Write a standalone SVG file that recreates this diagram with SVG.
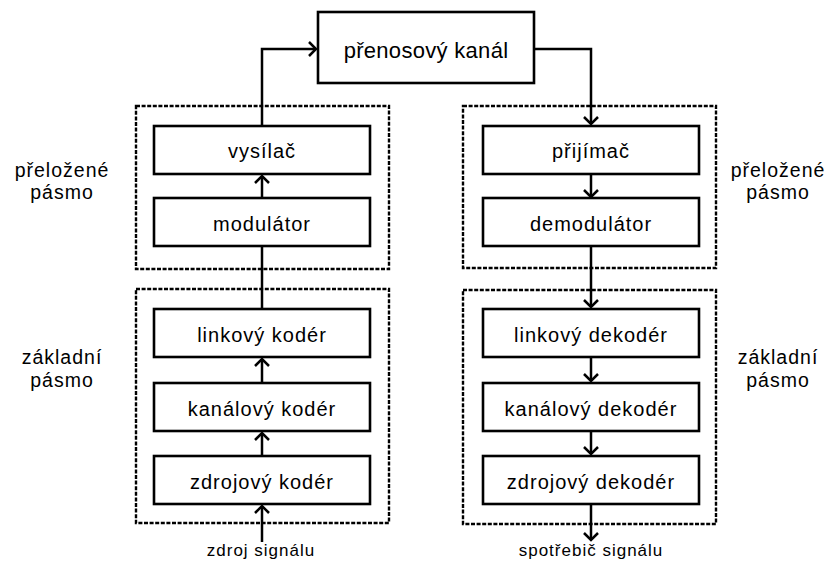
<svg xmlns="http://www.w3.org/2000/svg" width="838" height="563" viewBox="0 0 838 563">
  <style>
    .bg { fill: #ffffff; }
    .node rect { fill: #ffffff; stroke: #000000; stroke-width: 2.6; }
    .node text { font-family: "Liberation Sans", Arial, sans-serif; font-size: 20px; letter-spacing: 1px; fill: #000000; text-anchor: middle; }
    .node.big text { font-size: 22px; letter-spacing: 0.3px; }
    .band rect { fill: none; stroke: #000000; stroke-width: 2.4; stroke-dasharray: 4 1.6; }
    .label { font-family: "Liberation Sans", Arial, sans-serif; font-size: 19.5px; letter-spacing: 1px; fill: #000000; text-anchor: middle; }
    .io { font-family: "Liberation Sans", Arial, sans-serif; font-size: 17px; letter-spacing: 1px; fill: #000000; text-anchor: middle; }
    .conn { fill: none; stroke: #000000; stroke-width: 2.5; }
  </style>
  <defs>
    <marker id="chev" markerUnits="userSpaceOnUse" viewBox="-10 -9 12 18" markerWidth="12" markerHeight="18" refX="0" refY="0" orient="auto">
      <path d="M-7,-7 L0,0 L-7,7" fill="none" stroke="#000000" stroke-width="2.5"/>
    </marker>
  </defs>
  <rect class="bg" x="0" y="0" width="838" height="563"/>

  <!-- frequency bands (dashed frames) -->
  <g id="bands" class="band">
    <rect x="136" y="106" width="253" height="163"/>
    <rect x="463" y="106" width="253" height="162"/>
    <rect x="136" y="289" width="253" height="234"/>
    <rect x="463" y="290" width="253" height="234"/>
  </g>

  <!-- band labels -->
  <g id="band-labels">
    <text class="label" x="62" y="177">přeložené</text>
    <text class="label" x="62" y="199">pásmo</text>
    <text class="label" x="62" y="364">základní</text>
    <text class="label" x="62" y="387">pásmo</text>
    <text class="label" x="778" y="177">přeložené</text>
    <text class="label" x="778" y="199">pásmo</text>
    <text class="label" x="778" y="364">základní</text>
    <text class="label" x="778" y="387">pásmo</text>
  </g>

  <!-- connectors -->
  <g id="connectors" class="conn">
    <path d="M262,542 L262,506" marker-end="url(#chev)"/>
    <path d="M262,456 L262,433" marker-end="url(#chev)"/>
    <path d="M262,383 L262,359" marker-end="url(#chev)"/>
    <path d="M262,309 L262,246"/>
    <path d="M262,198 L262,176" marker-end="url(#chev)"/>
    <path d="M262,126 L262,49 L316,49" marker-end="url(#chev)"/>
    <path d="M534,49 L591,49 L591,124" marker-end="url(#chev)"/>
    <path d="M591,174 L591,197" marker-end="url(#chev)"/>
    <path d="M591,246 L591,307" marker-end="url(#chev)"/>
    <path d="M591,357 L591,381" marker-end="url(#chev)"/>
    <path d="M591,431 L591,454" marker-end="url(#chev)"/>
    <path d="M591,504 L591,540" marker-end="url(#chev)"/>
  </g>

  <!-- nodes -->
  <g id="prenosovy-kanal" class="node big">
    <rect x="318" y="12" width="216" height="71"/>
    <text x="426" y="58">přenosový kanál</text>
  </g>
  <g id="vysilac" class="node">
    <rect x="154" y="126" width="216" height="48"/>
    <text x="262" y="158">vysílač</text>
  </g>
  <g id="modulator" class="node">
    <rect x="154" y="198" width="216" height="48"/>
    <text x="262" y="231">modulátor</text>
  </g>
  <g id="linkovy-koder" class="node">
    <rect x="154" y="309" width="216" height="48"/>
    <text x="262" y="342">linkový kodér</text>
  </g>
  <g id="kanalovy-koder" class="node">
    <rect x="154" y="383" width="216" height="48"/>
    <text x="262" y="416">kanálový kodér</text>
  </g>
  <g id="zdrojovy-koder" class="node">
    <rect x="154" y="456" width="216" height="48"/>
    <text x="262" y="489">zdrojový kodér</text>
  </g>
  <g id="prijimac" class="node">
    <rect x="483" y="126" width="216" height="48"/>
    <text x="591" y="158">přijímač</text>
  </g>
  <g id="demodulator" class="node">
    <rect x="483" y="198" width="216" height="48"/>
    <text x="591" y="231">demodulátor</text>
  </g>
  <g id="linkovy-dekoder" class="node">
    <rect x="483" y="309" width="216" height="48"/>
    <text x="591" y="342">linkový dekodér</text>
  </g>
  <g id="kanalovy-dekoder" class="node">
    <rect x="483" y="383" width="216" height="48"/>
    <text x="591" y="416">kanálový dekodér</text>
  </g>
  <g id="zdrojovy-dekoder" class="node">
    <rect x="483" y="456" width="216" height="48"/>
    <text x="591" y="489">zdrojový dekodér</text>
  </g>

  <!-- source and sink -->
  <g id="io-labels">
    <text class="io" x="261" y="556">zdroj signálu</text>
    <text class="io" x="591" y="556">spotřebič signálu</text>
  </g>
</svg>
